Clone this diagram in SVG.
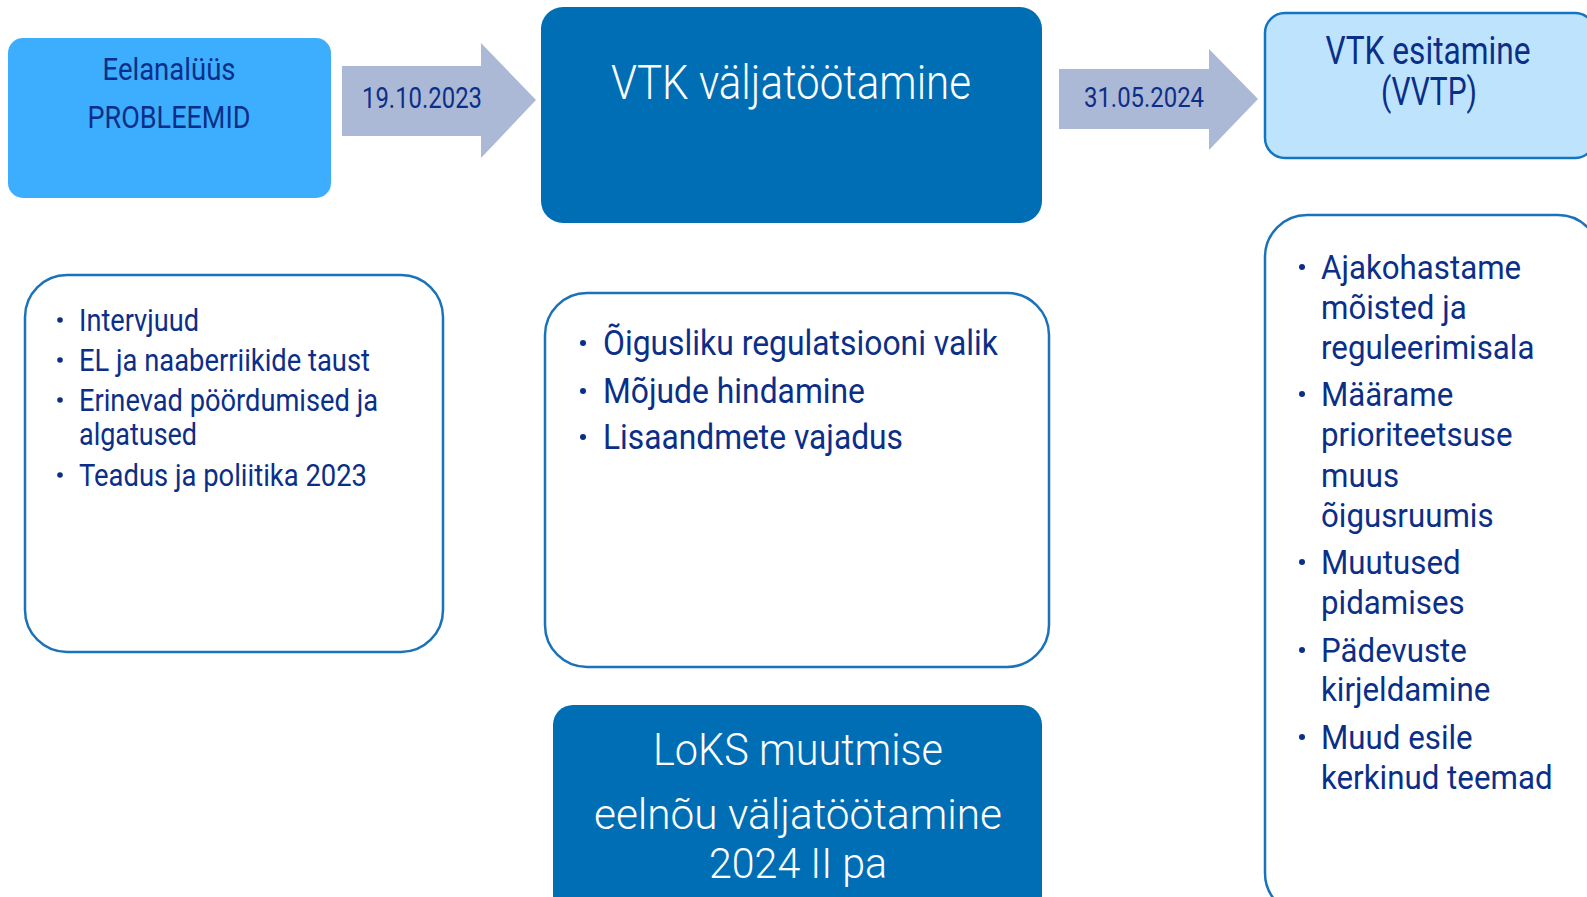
<svg xmlns="http://www.w3.org/2000/svg" width="1587" height="897" viewBox="0 0 1587 897">
<style>
text{font-family:Roboto,"Liberation Sans",sans-serif}
.navy{fill:#0b2f88}
.light{fill:#ffffff;font-weight:300}
.list{fill:#ffffff;stroke:#1a72ba;stroke-width:2.5}
.bul{fill:#0b2f88}
.arrow{fill:#abb9d7}
</style>
<rect width="1587" height="897" fill="#ffffff"/>
<g id="connectors">
<polygon class="arrow" points="342,66 481,66 481,43 536,100 481,158 481,136 342,136"/>
<text class="navy" x="422" y="108" font-size="29" text-anchor="middle" textLength="120" lengthAdjust="spacingAndGlyphs">19.10.2023</text>
<polygon class="arrow" points="1059,69 1209,69 1209,49 1258,99 1209,150 1209,129 1059,129"/>
<text class="navy" x="1144" y="107" font-size="28" text-anchor="middle" textLength="120" lengthAdjust="spacingAndGlyphs">31.05.2024</text>
</g>
<g id="eelanalyys">
<rect x="8" y="38" width="323" height="160" rx="15" fill="#3daefd"/>
<text class="navy" x="169" y="80" font-size="31" text-anchor="middle" textLength="133" lengthAdjust="spacingAndGlyphs">Eelanalüüs</text>
<text class="navy" x="169" y="128" font-size="31" text-anchor="middle" textLength="163" lengthAdjust="spacingAndGlyphs">PROBLEEMID</text>
</g>
<g id="vtk-valjatootamine">
<rect x="541" y="7" width="501" height="216" rx="22" fill="#006eb5"/>
<text class="light" x="791" y="99" font-size="48" text-anchor="middle" textLength="360" lengthAdjust="spacingAndGlyphs">VTK väljatöötamine</text>
</g>
<g id="vtk-esitamine">
<rect x="1265" y="13" width="330" height="145" rx="20" fill="#bee3fc" stroke="#1275c4" stroke-width="2.5"/>
<text class="navy" x="1428" y="64" font-size="38" text-anchor="middle" textLength="205" lengthAdjust="spacingAndGlyphs">VTK esitamine</text>
<text class="navy" x="1429" y="105" font-size="38" text-anchor="middle" textLength="96" lengthAdjust="spacingAndGlyphs">(VVTP)</text>
</g>
<g id="eelanalyys-list">
<rect class="list" x="25" y="275" width="418" height="377" rx="42"/>
<circle class="bul" cx="60" cy="320" r="2.8"/>
<circle class="bul" cx="60" cy="360" r="2.8"/>
<circle class="bul" cx="60" cy="400" r="2.8"/>
<circle class="bul" cx="60" cy="475" r="2.8"/>
<text class="navy" x="79" y="331" font-size="31" textLength="120" lengthAdjust="spacingAndGlyphs">Intervjuud</text>
<text class="navy" x="79" y="371" font-size="31" textLength="291" lengthAdjust="spacingAndGlyphs">EL ja naaberriikide taust</text>
<text class="navy" x="79" y="411" font-size="31" textLength="299" lengthAdjust="spacingAndGlyphs">Erinevad pöördumised ja</text>
<text class="navy" x="79" y="445" font-size="31" textLength="118" lengthAdjust="spacingAndGlyphs">algatused</text>
<text class="navy" x="79" y="486" font-size="31" textLength="288" lengthAdjust="spacingAndGlyphs">Teadus ja poliitika 2023</text>
</g>
<g id="vtk-list">
<rect class="list" x="545" y="293" width="504" height="374" rx="42"/>
<circle class="bul" cx="583" cy="343" r="3"/>
<circle class="bul" cx="583" cy="391" r="3"/>
<circle class="bul" cx="583" cy="437" r="3"/>
<text class="navy" x="603" y="355" font-size="35" textLength="395" lengthAdjust="spacingAndGlyphs">Õigusliku regulatsiooni valik</text>
<text class="navy" x="603" y="403" font-size="35" textLength="262" lengthAdjust="spacingAndGlyphs">Mõjude hindamine</text>
<text class="navy" x="603" y="449" font-size="35" textLength="300" lengthAdjust="spacingAndGlyphs">Lisaandmete vajadus</text>
</g>
<g id="loks">
<rect x="553" y="705" width="489" height="210" rx="20" fill="#006eb5"/>
<text class="light" x="798" y="765" font-size="44" text-anchor="middle" textLength="290" lengthAdjust="spacingAndGlyphs">LoKS muutmise</text>
<text class="light" x="798" y="829" font-size="42" text-anchor="middle" textLength="408" lengthAdjust="spacingAndGlyphs">eelnõu väljatöötamine</text>
<text class="light" x="798" y="878" font-size="43" text-anchor="middle" textLength="178" lengthAdjust="spacingAndGlyphs">2024 II pa</text>
</g>
<g id="vvtp-list">
<rect class="list" x="1265" y="215" width="335" height="700" rx="42"/>
<circle class="bul" cx="1302" cy="267" r="3"/>
<circle class="bul" cx="1302" cy="394" r="3"/>
<circle class="bul" cx="1302" cy="562" r="3"/>
<circle class="bul" cx="1302" cy="650" r="3"/>
<circle class="bul" cx="1302" cy="737" r="3"/>
<g transform="translate(1321,0) scale(0.92,1)" font-size="34" class="navy">
<text x="0" y="279">Ajakohastame</text>
<text x="0" y="319">mõisted ja</text>
<text x="0" y="359">reguleerimisala</text>
<text x="0" y="406">Määrame</text>
<text x="0" y="446">prioriteetsuse</text>
<text x="0" y="487">muus</text>
<text x="0" y="527">õigusruumis</text>
<text x="0" y="574">Muutused</text>
<text x="0" y="614">pidamises</text>
<text x="0" y="662">Pädevuste</text>
<text x="0" y="701">kirjeldamine</text>
<text x="0" y="749">Muud esile</text>
<text x="0" y="789">kerkinud teemad</text>
</g>
</g>
</svg>
